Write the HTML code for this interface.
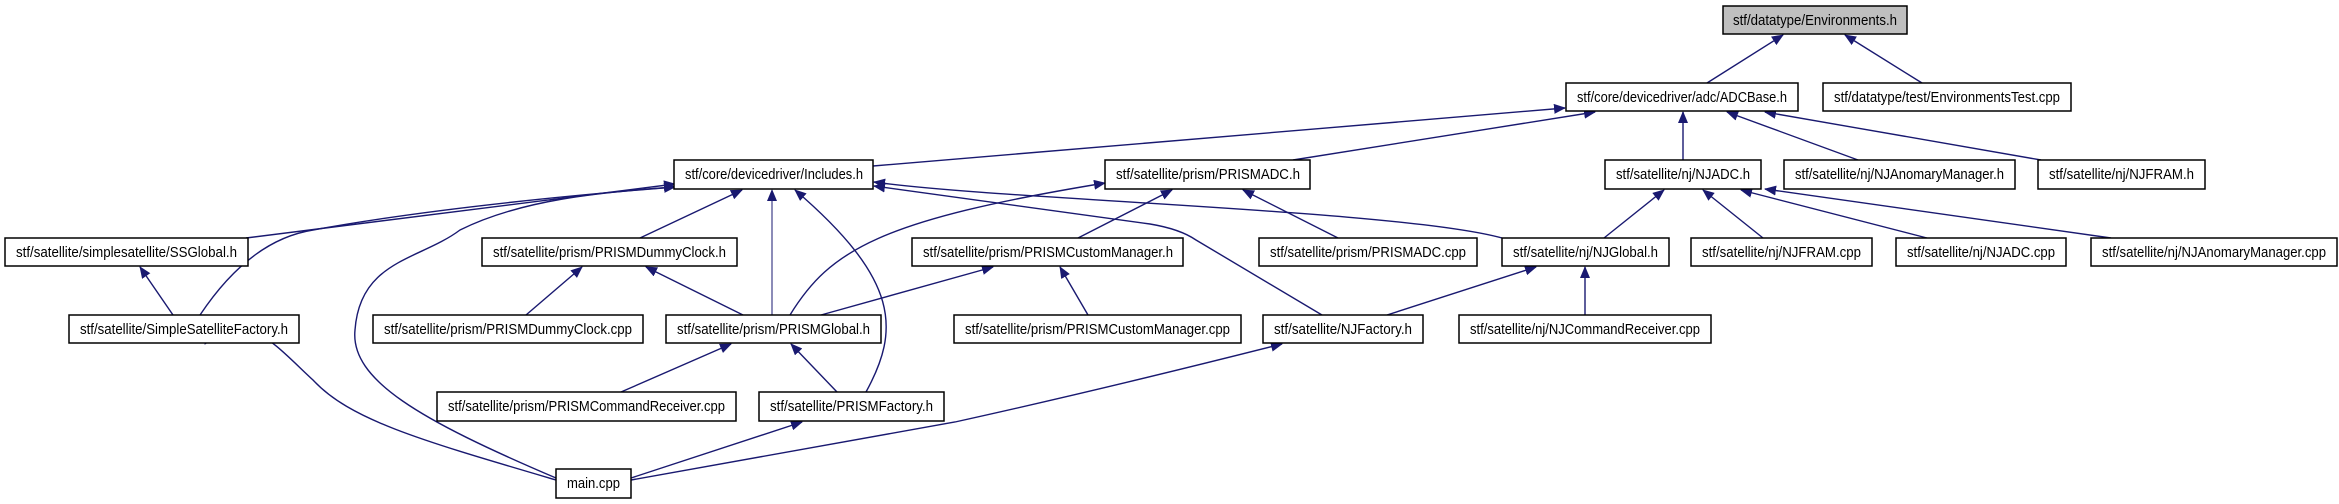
<!DOCTYPE html>
<html><head><meta charset="utf-8"><style>
html,body{margin:0;padding:0;background:#fff;}
svg{display:block;}
text{font-family:"Liberation Sans",Arial,sans-serif;font-size:15px;fill:#000;}
</style></head><body>
<svg width="2339" height="504" viewBox="0 0 2339 504" xmlns="http://www.w3.org/2000/svg">
<defs>
<marker id="a" viewBox="0 0 12 10" refX="11" refY="5" markerWidth="12" markerHeight="10" markerUnits="userSpaceOnUse" orient="auto">
<path d="M0,0 L12,5 L0,10 z" fill="#191970"/>
</marker>
</defs>
<g fill="none" stroke="#191970" stroke-width="1.4" marker-end="url(#a)">
<path d="M1707,83 L1783,35"/>
<path d="M1922,83 L1845,35"/>
<path d="M873,166 L1565,108"/>
<path d="M1293,160 L1595,112"/>
<path d="M1683,160 L1683,112"/>
<path d="M1858,160 L1727,112"/>
<path d="M2041,160 L1765,112"/>
<path d="M246,238 L675,184"/>
<path d="M200,315 Q250,240 313,230 Q450,205 675,187"/>
<path d="M556,478 C420,420 350,380 355,330 C360,260 420,260 460,230 C520,200 600,192 675,187"/>
<path d="M640,238 L742,190"/>
<path d="M772,315 L772,190" stroke-width="1"/>
<path d="M866,392 C900,330 900,280 795,190"/>
<path d="M1502,238 C1400,210 1000,200 874,182"/>
<path d="M1322,315 L1196,240 Q1180,229 1150,224 L874,186"/>
<path d="M790,315 C830,250 880,220 1105,183"/>
<path d="M1078,238 L1172,190"/>
<path d="M1338,238 L1243,190"/>
<path d="M1604,238 L1664,190"/>
<path d="M1763,238 L1703,190"/>
<path d="M1927,238 L1741,190"/>
<path d="M2111,238 L1765,189"/>
<path d="M173,315 L140,267"/>
<path d="M526,315 L582,267"/>
<path d="M743,315 L646,267"/>
<path d="M821,315 L993,267"/>
<path d="M1088,315 L1060,267"/>
<path d="M1387,315 L1536,267"/>
<path d="M1585,315 L1585,267"/>
<path d="M621,392 L731,344"/>
<path d="M837,392 L791,344"/>
<path d="M556,480 C420,440 350,420 313,380 C280,350 240,300 205,344"/>
<path d="M631,478 L802,422"/>
<path d="M631,480 L955,422 Q1100,390 1282,344"/>
</g>
<g stroke="#000" stroke-width="1.5" fill="#fff">
<rect x="1723" y="6" width="184" height="28" fill="#bfbfbf"/>
<rect x="1566" y="83" width="232" height="28"/>
<rect x="1823" y="83" width="248" height="28"/>
<rect x="674" y="160" width="199" height="29"/>
<rect x="1105" y="160" width="205" height="29"/>
<rect x="1605" y="160" width="156" height="29"/>
<rect x="1784" y="160" width="231" height="29"/>
<rect x="2038" y="160" width="167" height="29"/>
<rect x="5" y="238" width="243" height="28"/>
<rect x="482" y="238" width="255" height="28"/>
<rect x="912" y="238" width="271" height="28"/>
<rect x="1259" y="238" width="218" height="28"/>
<rect x="1502" y="238" width="167" height="28"/>
<rect x="1691" y="238" width="181" height="28"/>
<rect x="1896" y="238" width="170" height="28"/>
<rect x="2091" y="238" width="246" height="28"/>
<rect x="69" y="315" width="230" height="28"/>
<rect x="373" y="315" width="270" height="28"/>
<rect x="666" y="315" width="215" height="28"/>
<rect x="954" y="315" width="287" height="28"/>
<rect x="1263" y="315" width="160" height="28"/>
<rect x="1459" y="315" width="252" height="28"/>
<rect x="437" y="392" width="299" height="29"/>
<rect x="759" y="392" width="185" height="29"/>
<rect x="556" y="469" width="75" height="29"/>
</g>
<g>
<text x="1733" y="25" textLength="164" lengthAdjust="spacingAndGlyphs">stf/datatype/Environments.h</text>
<text x="1577" y="102" textLength="210" lengthAdjust="spacingAndGlyphs">stf/core/devicedriver/adc/ADCBase.h</text>
<text x="1834" y="102" textLength="226" lengthAdjust="spacingAndGlyphs">stf/datatype/test/EnvironmentsTest.cpp</text>
<text x="685" y="179" textLength="178" lengthAdjust="spacingAndGlyphs">stf/core/devicedriver/Includes.h</text>
<text x="1116" y="179" textLength="184" lengthAdjust="spacingAndGlyphs">stf/satellite/prism/PRISMADC.h</text>
<text x="1616" y="179" textLength="134" lengthAdjust="spacingAndGlyphs">stf/satellite/nj/NJADC.h</text>
<text x="1795" y="179" textLength="209" lengthAdjust="spacingAndGlyphs">stf/satellite/nj/NJAnomaryManager.h</text>
<text x="2049" y="179" textLength="145" lengthAdjust="spacingAndGlyphs">stf/satellite/nj/NJFRAM.h</text>
<text x="16" y="257" textLength="221" lengthAdjust="spacingAndGlyphs">stf/satellite/simplesatellite/SSGlobal.h</text>
<text x="493" y="257" textLength="233" lengthAdjust="spacingAndGlyphs">stf/satellite/prism/PRISMDummyClock.h</text>
<text x="923" y="257" textLength="250" lengthAdjust="spacingAndGlyphs">stf/satellite/prism/PRISMCustomManager.h</text>
<text x="1270" y="257" textLength="196" lengthAdjust="spacingAndGlyphs">stf/satellite/prism/PRISMADC.cpp</text>
<text x="1513" y="257" textLength="145" lengthAdjust="spacingAndGlyphs">stf/satellite/nj/NJGlobal.h</text>
<text x="1702" y="257" textLength="159" lengthAdjust="spacingAndGlyphs">stf/satellite/nj/NJFRAM.cpp</text>
<text x="1907" y="257" textLength="148" lengthAdjust="spacingAndGlyphs">stf/satellite/nj/NJADC.cpp</text>
<text x="2102" y="257" textLength="224" lengthAdjust="spacingAndGlyphs">stf/satellite/nj/NJAnomaryManager.cpp</text>
<text x="80" y="334" textLength="208" lengthAdjust="spacingAndGlyphs">stf/satellite/SimpleSatelliteFactory.h</text>
<text x="384" y="334" textLength="248" lengthAdjust="spacingAndGlyphs">stf/satellite/prism/PRISMDummyClock.cpp</text>
<text x="677" y="334" textLength="193" lengthAdjust="spacingAndGlyphs">stf/satellite/prism/PRISMGlobal.h</text>
<text x="965" y="334" textLength="265" lengthAdjust="spacingAndGlyphs">stf/satellite/prism/PRISMCustomManager.cpp</text>
<text x="1274" y="334" textLength="138" lengthAdjust="spacingAndGlyphs">stf/satellite/NJFactory.h</text>
<text x="1470" y="334" textLength="230" lengthAdjust="spacingAndGlyphs">stf/satellite/nj/NJCommandReceiver.cpp</text>
<text x="448" y="411" textLength="277" lengthAdjust="spacingAndGlyphs">stf/satellite/prism/PRISMCommandReceiver.cpp</text>
<text x="770" y="411" textLength="163" lengthAdjust="spacingAndGlyphs">stf/satellite/PRISMFactory.h</text>
<text x="567" y="488" textLength="53" lengthAdjust="spacingAndGlyphs">main.cpp</text>
</g>
</svg>
</body></html>
